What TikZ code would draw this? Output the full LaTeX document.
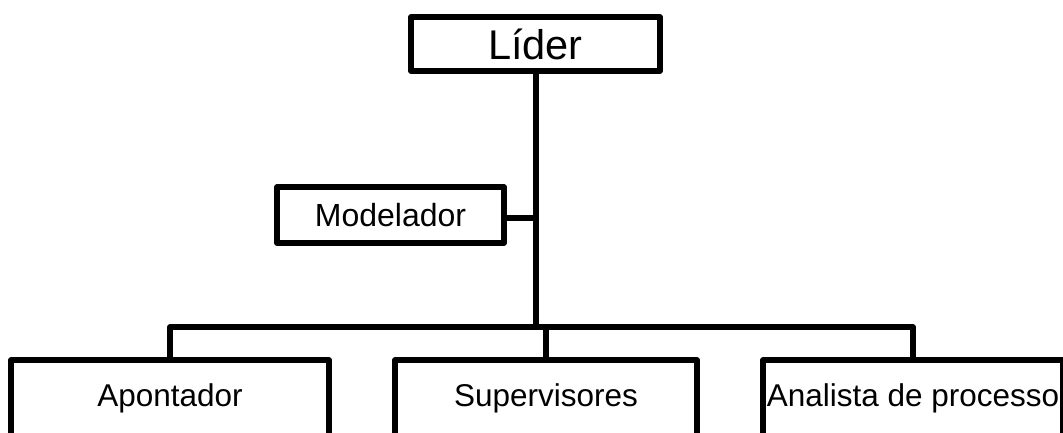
\documentclass[tikz,border=0pt]{standalone}
\usepackage{fontspec}
\setmainfont{Liberation Sans}
\begin{document}
\begin{tikzpicture}[x=1pt, y=-1pt,
    orgbox/.style={draw=black, line width=5.5pt, line join=round, fill=white,
      inner sep=0pt, anchor=center},
    wire/.style={draw=black, line width=5.5pt, line join=round}]
  % page area; bottom row of boxes runs off the lower edge
  \path[use as bounding box, clip] (0,0) rectangle (1063,432);

  % boxes
  \node[orgbox, minimum width=249pt, minimum height=54pt,
        font=\fontsize{41.5}{48}\selectfont] (lider) at (535.5,44) {Líder};
  \node[orgbox, minimum width=227pt, minimum height=56pt,
        font=\fontsize{32}{38}\selectfont] (modelador) at (390.5,215) {Modelador};
  \node[orgbox, minimum width=318pt, minimum height=76pt,
        font=\fontsize{31.5}{38}\selectfont] (apontador) at (170,398) {Apontador};
  \node[orgbox, minimum width=302pt, minimum height=76pt,
        font=\fontsize{31.5}{38}\selectfont] (supervisores) at (546,398) {Supervisores};
  \node[orgbox, minimum width=300pt, minimum height=76pt,
        font=\fontsize{31.5}{38}\selectfont] (analista) at (913,398) {Analista de processo};

  % trunk and bus
  \coordinate (trunktop) at (536,71);
  \coordinate (busjoin) at (536,327);
  \coordinate (modjoin) at (536,218);
  \coordinate (busleft) at (170,327);
  \coordinate (busmid) at (546,327);
  \coordinate (busright) at (913,327);

  \draw[wire] (lider.south -| trunktop) -- (busjoin);
  \draw[wire] (modelador.east |- modjoin) -- (modjoin);
  \draw[wire] (apontador.north) -- (busleft) -- (busright) -- (analista.north);
  \draw[wire] (busmid) -- (supervisores.north);
\end{tikzpicture}
\end{document}
